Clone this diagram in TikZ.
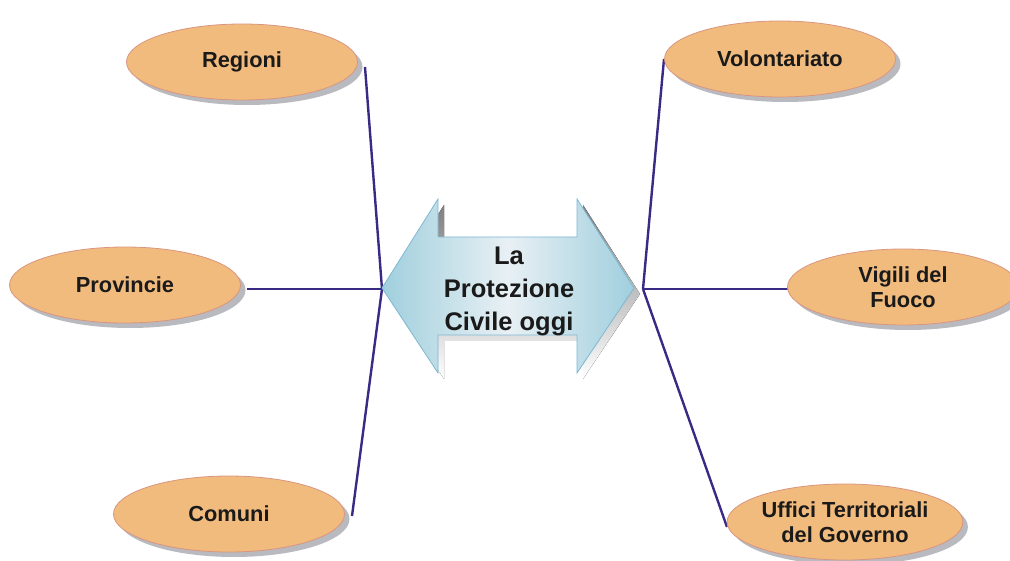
\documentclass[tikz,border=0pt]{standalone}
\usepackage{fontspec}
\setmainfont{Liberation Sans}
\usetikzlibrary{shapes.geometric,shadows}

\definecolor{peach}{HTML}{F2BB7E}
\definecolor{peachedge}{HTML}{D9957F}
\definecolor{shade}{HTML}{B9B9C0}
\definecolor{wirecol}{HTML}{3B2A85}
\definecolor{arrowedge}{HTML}{7DB8D4}
\definecolor{arrowside}{HTML}{A0CFDD}
\definecolor{arrowmid}{HTML}{E8F0F4}
\definecolor{ink}{HTML}{1A1A1A}

\begin{document}
\begin{tikzpicture}[x=1pt,y=-1pt,
  entity/.style={ellipse, draw=peachedge, line width=0.8pt, fill=peach,
    minimum width=231pt, minimum height=76pt, inner sep=0pt, align=center,
    font=\fontsize{21.8}{25}\selectfont\bfseries, text=ink,
    drop shadow={shadow xshift=5pt, shadow yshift=-5pt, fill=shade, opacity=1}},
  wire/.style={draw=wirecol, line width=2.4pt},
  hubtext/.style={align=center, font=\fontsize{25.5}{33}\selectfont\bfseries, text=ink}]
\useasboundingbox (0,0) rectangle (1010,561);

% hubs and free ends of the connectors
\coordinate (lhub) at (382,289);
\coordinate (rhub) at (643,289);
\coordinate (regEnd) at (365,67);
\coordinate (provEnd) at (247,289);
\coordinate (comEnd) at (352,516);
\coordinate (volEnd) at (664,59);
\coordinate (vigEnd) at (790,289);
\coordinate (uffEnd) at (727,527);

% connectors
\draw[wire] (regEnd) -- (lhub);
\draw[wire] (provEnd) -- (lhub);
\draw[wire] (comEnd) -- (lhub);
\draw[wire] (volEnd) -- (rhub);
\draw[wire] (vigEnd) -- (rhub);
\draw[wire] (uffEnd) -- (rhub);

% central double arrow with its shadow
\fill[shade, shift={(6,6)}] (382,288) -- (438,199) -- (438,237) -- (577,237) -- (577,199)
  -- (634,288) -- (577,373) -- (577,335) -- (438,335) -- (438,373) -- cycle;
\path[draw=arrowedge, line width=0.8pt, left color=arrowside, right color=arrowside, middle color=arrowmid]
  (382,288) -- (438,199) -- (438,237) -- (577,237) -- (577,199)
  -- (634,288) -- (577,373) -- (577,335) -- (438,335) -- (438,373) -- cycle;
\node[hubtext] (hub) at (509,291) {La\\Protezione\\Civile oggi};

% entities
\node[entity] (reg) at (242,62) {Regioni};
\node[entity] (prov) at (125,285) {Provincie};
\node[entity] (com) at (229,514) {Comuni};
\node[entity] (vol) at (780,59) {Volontariato};
\node[entity] (vig) at (903,287) {Vigili del\\Fuoco};
\node[entity] (uff) at (845,522) {Uffici Territoriali\\del Governo};
\end{tikzpicture}
\end{document}
